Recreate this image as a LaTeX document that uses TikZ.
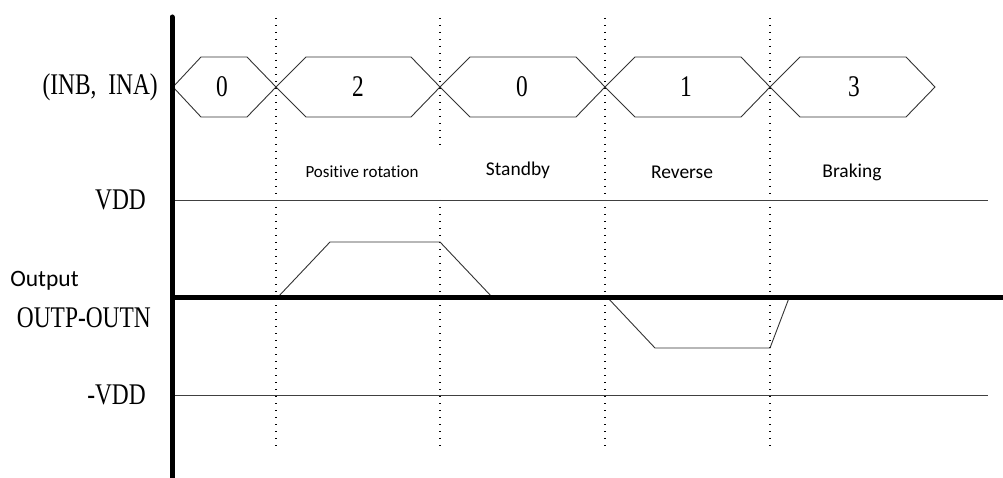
\documentclass[tikz,border=0pt]{standalone}
\usepackage{fontspec}
\newfontfamily\serifc[FakeStretch=0.78]{Liberation Serif}
\newfontfamily\calib[Ligatures=NoCommon]{Carlito}
\tikzset{
  serlab/.style={inner sep=0pt, font=\serifc\fontsize{30}{34}\selectfont},
  sanlab/.style={inner sep=0pt, font=\calib\fontsize{19.5}{22}\selectfont},
  bus/.style={line width=0.9pt, black!80},
  grid/.style={line width=1.1pt, dash pattern=on 1.1pt off 5.9pt},
  level/.style={line width=0.9pt, black!75},
  wave/.style={line width=0.9pt, black!80},
  thick axis/.style={line width=5pt}
}
\begin{document}
\begin{tikzpicture}[x=1pt,y=-1pt]
\useasboundingbox (0,0) rectangle (1003,478);
% dotted time separators
\draw[grid] (276,18) -- (276,450);
\draw[grid] (440,18) -- (440,150);
\draw[grid] (440,200) -- (440,450);
\draw[grid] (605,18) -- (605,450);
\draw[grid] (770,18) -- (770,450);
% bus hexagons
\foreach \l/\a/\b/\r in {173/201/247/276, 276/306/411/440, 440/470/576/605, 605/635/741/770, 770/800/906/935}{
  \draw[bus] (\l,87) -- (\a,57) -- (\b,57) -- (\r,87) -- (\b,117) -- (\a,117) -- cycle;
}
\node[serlab] (v1) at (222,87) {0};
\node[serlab] (v2) at (358,87) {2};
\node[serlab] (v3) at (522,87) {0};
\node[serlab] (v4) at (686,87) {1};
\node[serlab] (v5) at (854,87) {3};
% left labels
\node[serlab, anchor=east] (inb) at (158,87) {(INB,\hspace{6pt} INA)};
\node[serlab, anchor=east] (vdd) at (146,200) {VDD};
\node[serlab, anchor=east] (outpn) at (151,318) {OUTP-OUTN};
\node[serlab, anchor=east] (nvdd) at (146,395) {-VDD};
\node[inner sep=0pt, font=\calib\fontsize{23.5}{26}\selectfont] (out) at (44.5,281) {Output};
% mode labels
\node[sanlab, font=\calib\fontsize{17}{20}\selectfont] (pos) at (362,172) {Positive rotation};
\node[sanlab] (stb) at (518,170) {Standby};
\node[sanlab] (rev) at (682,172) {Reverse};
\node[sanlab] (brk) at (852,172) {Braking};
% level lines
\draw[level] (174,200) -- (988,200);
\draw[level] (174,395) -- (988,395);
% waveform
\draw[wave] (278,297) -- (330,242) -- (440,242) -- (492,297);
\draw[wave] (607,297) -- (655,348) -- (770,348) -- (789,298);
% axes
\draw[thick axis] (172,297) -- (1003,297);
\draw[thick axis, line cap=round] (172,17) -- (172,480);
\end{tikzpicture}
\end{document}
